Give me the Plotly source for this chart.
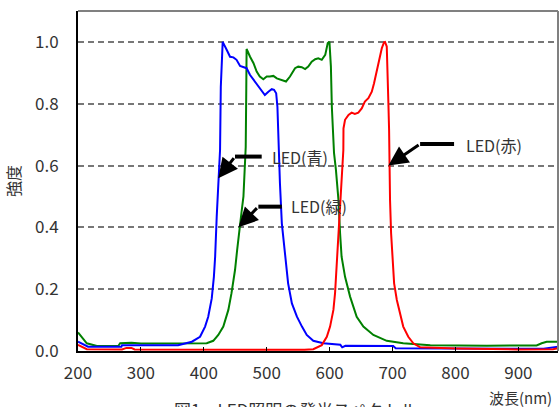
import plotly.graph_objects as go

# ---- data ----
blue_x = [200, 216, 269, 270, 359, 373, 381, 394, 402, 407, 412.6, 416, 418, 420.5, 423, 425.8, 427, 430,
          436.5, 441.7, 447, 452, 457.6, 463, 468, 473.5, 479, 484, 489, 494.6, 497, 502.6, 508, 511.6, 515,
          517, 518.6, 521, 524, 529, 534, 540, 548, 556, 563.6, 574, 590, 617, 620, 625, 701, 705, 940, 965]
blue_y = [0.03, 0.014, 0.014, 0.019, 0.019, 0.025, 0.03, 0.046, 0.079, 0.111, 0.17, 0.24, 0.305, 0.435, 0.553,
          0.65, 0.855, 1.0, 0.974, 0.952, 0.95, 0.942, 0.922, 0.918, 0.915, 0.893, 0.877, 0.866, 0.85, 0.834,
          0.828, 0.839, 0.847, 0.845, 0.834, 0.79, 0.65, 0.543, 0.413, 0.305, 0.219, 0.154, 0.111, 0.079, 0.052,
          0.033, 0.025, 0.02, 0.012, 0.017, 0.016, 0.009, 0.007, 0.014]

green_x = [200, 214, 230, 264, 267, 285, 300, 404.6, 415, 423, 431, 439, 444, 449.6, 453, 456.5, 460, 463,
           464.5, 466.6, 467.5, 468, 473.5, 479, 484, 489, 494.6, 500, 505, 510.6, 516, 524, 530.7, 537, 545,
           550, 555.7, 561, 566, 571.5, 577, 582, 587.5, 593, 597, 599.7, 602, 603.5, 605, 607, 610, 614,
           616.6, 619, 624.5, 632.5, 643, 653.6, 669.5, 690.8, 717, 760, 850, 929, 937, 945, 965]
green_y = [0.06, 0.025, 0.016, 0.016, 0.025, 0.027, 0.024, 0.025, 0.033, 0.052, 0.079, 0.133, 0.187, 0.262,
           0.327, 0.397, 0.45, 0.5, 0.586, 0.66, 0.85, 0.977, 0.952, 0.931, 0.904, 0.888, 0.879, 0.888, 0.888,
           0.89, 0.882, 0.877, 0.872, 0.888, 0.915, 0.92, 0.918, 0.912, 0.92, 0.936, 0.944, 0.947, 0.942, 0.958,
           0.996, 1.0, 0.92, 0.79, 0.704, 0.64, 0.586, 0.489, 0.381, 0.305, 0.24, 0.176, 0.111, 0.079, 0.052,
           0.033, 0.025, 0.019, 0.017, 0.018, 0.025, 0.03, 0.03]

red_x = [200, 214, 270, 277, 285, 290, 560, 574, 587.5, 595.5, 600.7, 606, 608.6, 611, 614, 616.6, 619, 621.8,
         622, 624.5, 630, 635, 640, 645.6, 651, 656, 661.6, 667, 670.6, 675, 679, 683, 686.5, 688, 690.8, 692.4,
         693.4, 694.5, 695, 696, 697.7, 700, 702.5, 706.8, 712, 717, 725, 733, 744, 800, 900, 955, 965]
red_y = [0.02, 0.006, 0.005, 0.01, 0.01, 0.005, 0.004, 0.006, 0.019, 0.046, 0.079, 0.133, 0.187, 0.273, 0.36,
         0.467, 0.564, 0.65, 0.72, 0.748, 0.764, 0.771, 0.767, 0.771, 0.785, 0.807, 0.818, 0.839, 0.866, 0.909,
         0.947, 0.98, 0.999, 1.0, 0.985, 0.9, 0.8, 0.715, 0.6, 0.489, 0.381, 0.294, 0.219, 0.165, 0.122, 0.079,
         0.046, 0.025, 0.012, 0.008, 0.005, 0.006, 0.01]

x_ticks = [200, 300, 400, 500, 600, 700, 800, 900]
y_ticks = [0.0, 0.2, 0.4, 0.6, 0.8, 1.0]

labels = ["LED(青)", "LED(緑)", "LED(赤)"]
# label anchor (left, middle), arrow corner, horizontal end, arrow tip
label_pos = [(505, 0.629), (535, 0.470), (813, 0.667)]
arrow_corner = [(449.6, 0.629), (486.7, 0.467), (743.8, 0.670)]
arrow_end = [(492, 0.629), (524, 0.467), (797.8, 0.670)]
arrow_tip = [(423, 0.559), (455, 0.400), (693.4, 0.600)]

FONT = "Noto Sans CJK JP"
TXT = "#333333"

fig = go.Figure()
fig.add_trace(go.Scatter(x=green_x, y=green_y, mode="lines", line=dict(color="#008000", width=2), showlegend=False))
fig.add_trace(go.Scatter(x=blue_x, y=blue_y, mode="lines", line=dict(color="#0000FF", width=2), showlegend=False))
fig.add_trace(go.Scatter(x=red_x, y=red_y, mode="lines", line=dict(color="#FF0000", width=2), showlegend=False))

shapes = [
    dict(type="line", xref="paper", yref="paper", x0=0, x1=1, y0=1, y1=1, line=dict(color="#808080", width=2)),
    dict(type="line", xref="paper", yref="paper", x0=1, x1=1, y0=0, y1=1, line=dict(color="#808080", width=2)),
]
annotations = []
for lab, lp, c, e, t in zip(labels, label_pos, arrow_corner, arrow_end, arrow_tip):
    shapes.append(dict(type="line", xref="x", yref="y", x0=c[0], y0=c[1], x1=e[0], y1=e[1],
                       line=dict(color="black", width=4)))
    annotations.append(dict(x=t[0], y=t[1], ax=c[0], ay=c[1], xref="x", yref="y", axref="x", ayref="y",
                            text="", showarrow=True, arrowhead=2, arrowsize=1.3, arrowwidth=3,
                            arrowcolor="black"))
    annotations.append(dict(x=lp[0], y=lp[1], xref="x", yref="y", text=lab, showarrow=False,
                            xanchor="left", yanchor="middle", font=dict(family=FONT, size=16, color=TXT)))

annotations.append(dict(x=0.992, y=-0.138, xref="paper", yref="paper", text="波長(nm)", showarrow=False,
                        xanchor="right", yanchor="middle", font=dict(family=FONT, size=15, color=TXT)))
annotations.append(dict(x=0.196, y=-0.128, xref="paper", yref="paper", text="図1　LED照明の発光スペクトル",
                        showarrow=False, xanchor="left", yanchor="top",
                        font=dict(family=FONT, size=17, color=TXT)))

fig.update_layout(
    width=559, height=407,
    margin=dict(l=78, r=1, t=11, b=56, autoexpand=False),
    paper_bgcolor="white", plot_bgcolor="white",
    shapes=shapes, annotations=annotations,
    font=dict(family=FONT, size=17, color=TXT),
    xaxis=dict(range=[200, 963], tickvals=x_ticks, ticktext=[str(v) for v in x_ticks],
               showgrid=False, zeroline=False, showline=True, linecolor="black", linewidth=2,
               ticks="inside", ticklen=4, tickcolor="black", tickwidth=1, automargin=False,
               ticklabelstandoff=6,
               tickfont=dict(family=FONT, size=17, color=TXT)),
    yaxis=dict(range=[0, 1.1], tickvals=y_ticks, ticktext=[f"{v:.1f}" for v in y_ticks],
               showgrid=True, gridcolor="#777777", gridwidth=1.5, griddash="6px,4px",
               zeroline=False, showline=True, linecolor="black", linewidth=2, ticks="",
               ticklabelstandoff=14, automargin=False,
               tickfont=dict(family=FONT, size=17, color=TXT),
               title=dict(text="強度", standoff=10, font=dict(family=FONT, size=16, color=TXT))),
)

fig.write_html("out.html", config={"displayModeBar": False},
               post_script="document.body.style.margin='0';document.body.style.overflow='hidden';")
